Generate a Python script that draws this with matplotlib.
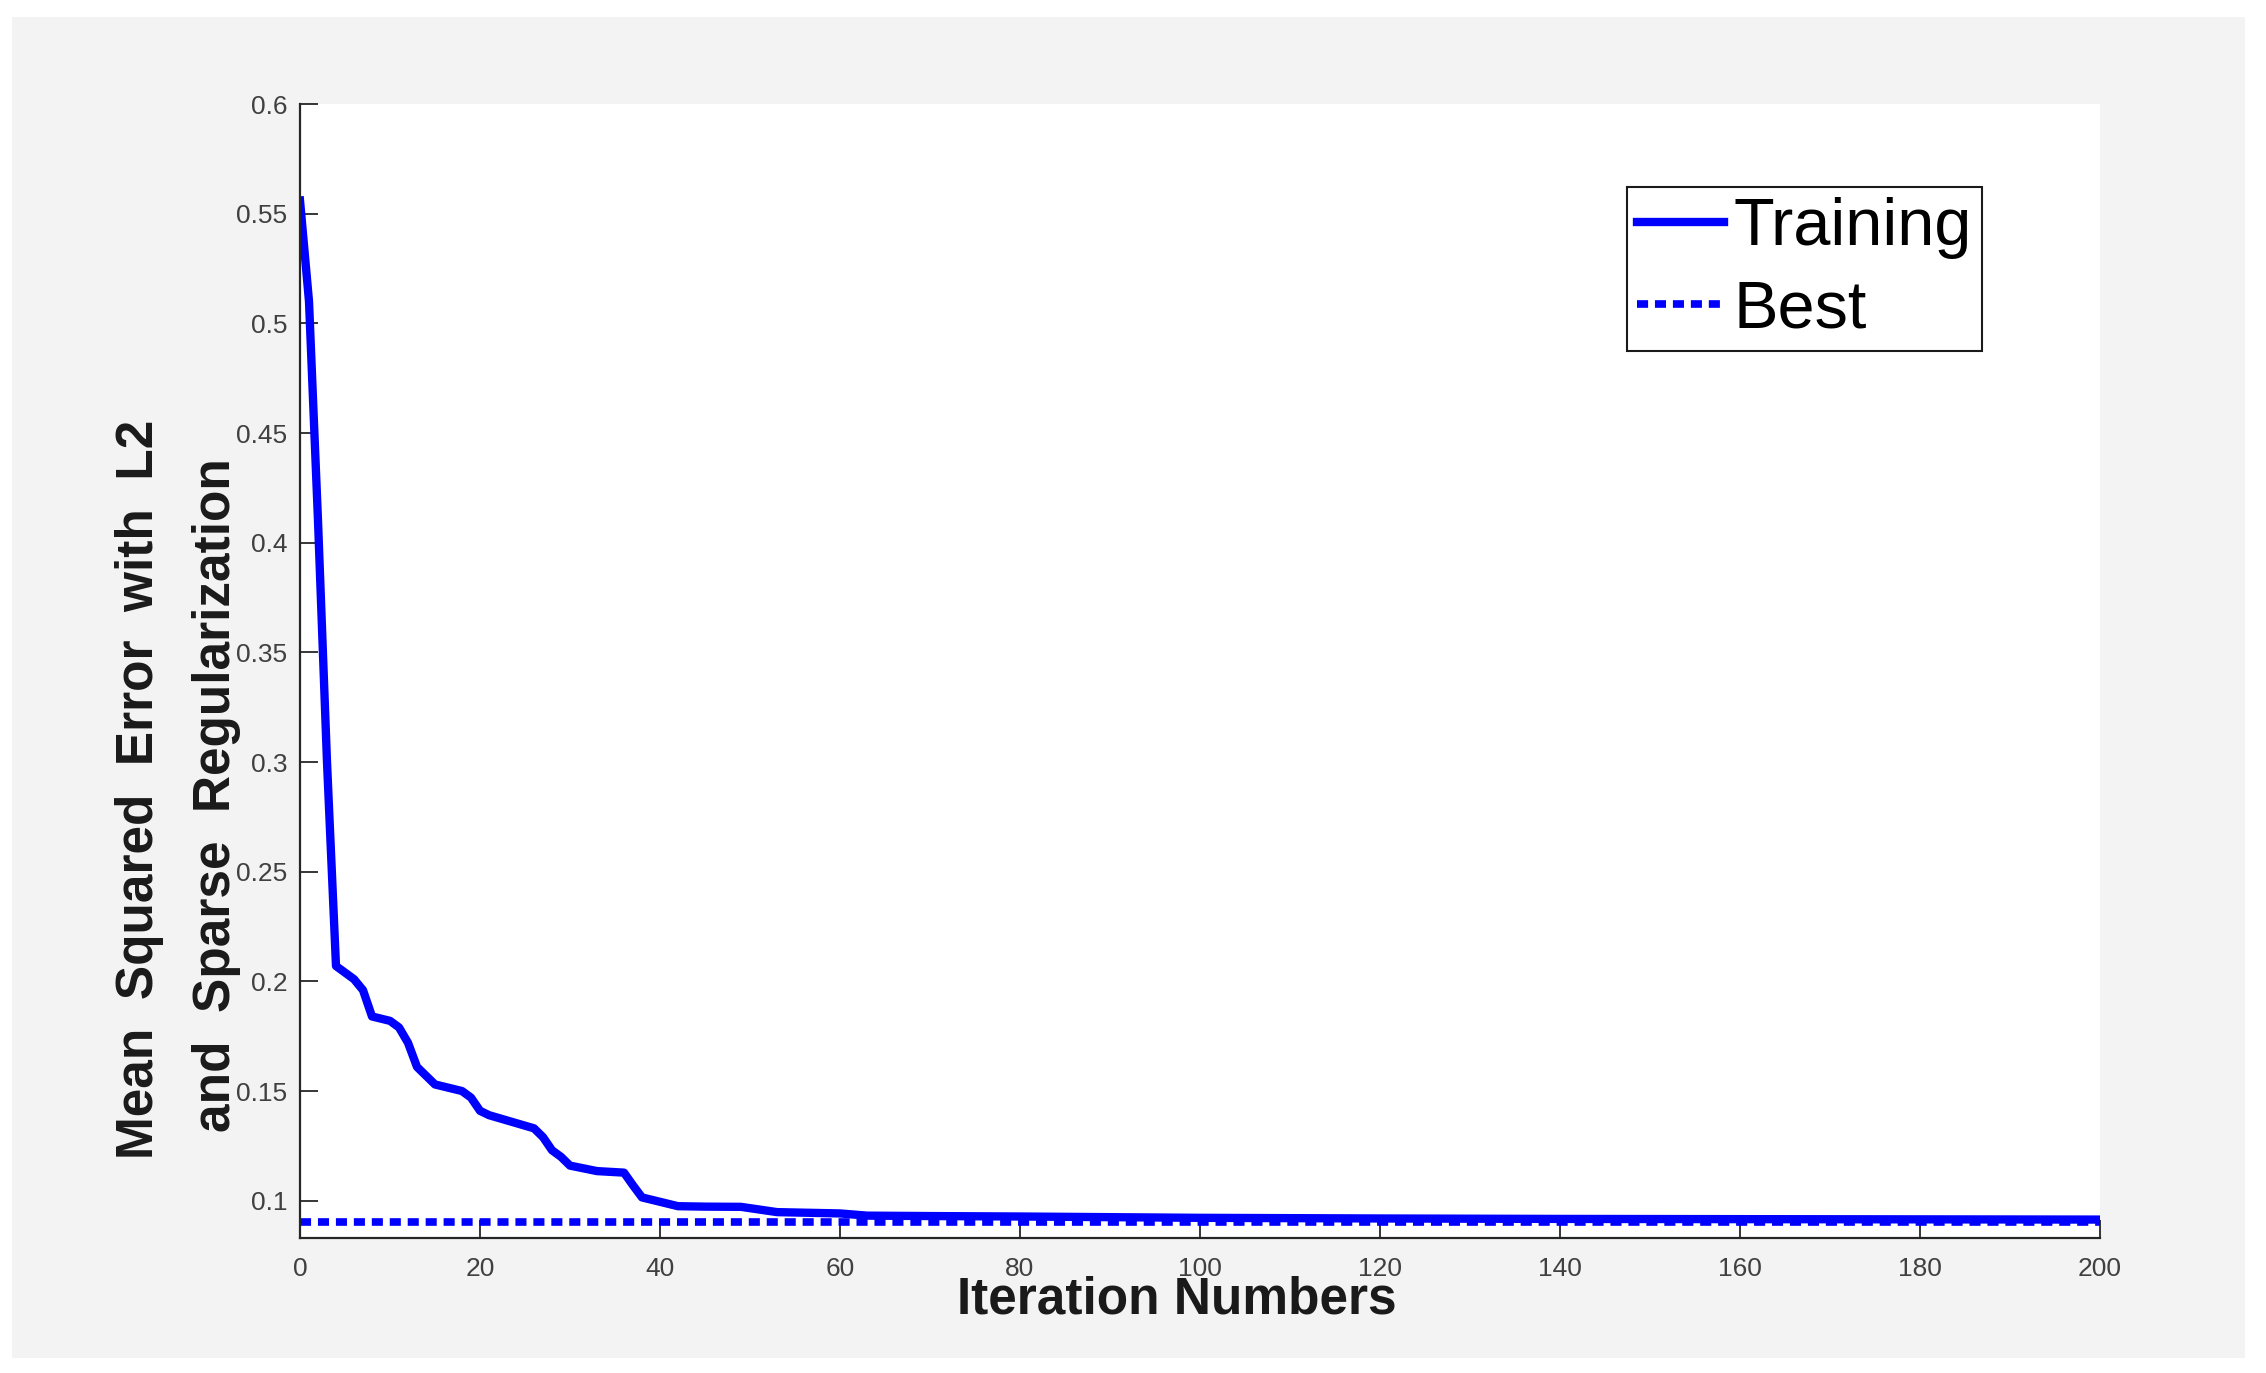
import matplotlib
matplotlib.use("Agg")
import matplotlib.pyplot as plt
from matplotlib.patches import Rectangle

plt.rcParams['font.family'] = ['Liberation Sans', 'DejaVu Sans']

# training curve
iters = [0, 1, 2, 3, 4, 5, 6, 7, 8, 10, 11, 12, 13, 14, 15, 18, 19, 20, 21,
         26, 27, 28, 29, 30, 33, 36, 37, 38, 40, 42, 45, 49, 53, 60, 63, 70,
         80, 90, 100, 120, 140, 160, 180, 200]
mse = [0.556, 0.51, 0.41, 0.30, 0.207, 0.204, 0.201, 0.196, 0.184, 0.182,
       0.179, 0.172, 0.161, 0.157, 0.153, 0.150, 0.147, 0.141, 0.139,
       0.133, 0.129, 0.123, 0.120, 0.116, 0.1135, 0.1128, 0.107, 0.1015,
       0.0995, 0.0975, 0.0973, 0.0972, 0.0948, 0.0942, 0.0932, 0.0930,
       0.0928, 0.0925, 0.0922, 0.0919, 0.0917, 0.0916, 0.0915, 0.0914]
best_val = 0.0904

xticks = [0, 20, 40, 60, 80, 100, 120, 140, 160, 180, 200]
yticks = [0.1, 0.15, 0.2, 0.25, 0.3, 0.35, 0.4, 0.45, 0.5, 0.55, 0.6]
ytick_labels = ['0.1', '0.15', '0.2', '0.25', '0.3', '0.35', '0.4', '0.45',
                '0.5', '0.55', '0.6']

W, H = 2266, 1373
fig = plt.figure(figsize=(W / 100, H / 100), dpi=100, facecolor='white')

# light grey panel with a thin white margin
fig.patches.append(Rectangle((12 / W, 15 / H), (2245 - 12) / W, (1356 - 15) / H,
                             transform=fig.transFigure, facecolor='#f3f3f3',
                             edgecolor='none', zorder=-10))

ax = fig.add_axes([300 / W, 1 - 1238 / H, 1800 / W, 1134 / H])
ax.set_facecolor('white')

ax.plot(iters, mse, color='#0000ff', lw=6, solid_joinstyle='round',
        label='Training')
ax.plot([0, 200], [best_val, best_val], color='#0000ff', lw=5.5,
        dashes=(1.45, 0.9), dash_capstyle='butt', label='Best')

ax.set_xlim(0, 200)
ax.set_ylim(0.083, 0.6)
ax.set_xticks(xticks)
ax.set_xticklabels([str(t) for t in xticks])
ax.set_yticks(yticks)
ax.set_yticklabels(ytick_labels)

for s in ['top', 'right']:
    ax.spines[s].set_visible(False)
for s in ['left', 'bottom']:
    ax.spines[s].set_color('#262626')
    ax.spines[s].set_linewidth(1.6)

ax.tick_params(direction='in', length=13, width=1.3, color='#262626',
               labelsize=19, labelcolor='#404040')
ax.tick_params(axis='x', pad=14)
ax.tick_params(axis='y', pad=9)

fig.text(1177 / W, 1 - 1300 / H, 'Iteration Numbers',
         ha='center', va='center', fontsize=37, fontweight='bold',
         color='#1a1a1a')
fig.text(140 / W, 1 - 789 / H, 'Mean  Squared  Error  with  L2', rotation=90,
         ha='center', va='center', fontsize=37, fontweight='bold',
         color='#1a1a1a')
fig.text(217 / W, 1 - 795 / H, 'and  Sparse  Regularization', rotation=90,
         ha='center', va='center', fontsize=37, fontweight='bold',
         color='#1a1a1a')

leg = ax.legend(loc='upper left', bbox_to_anchor=(1627 / W, 1 - 187 / H),
                bbox_transform=fig.transFigure, fontsize=48, frameon=True,
                fancybox=False, framealpha=1, edgecolor='#1a1a1a',
                borderpad=0.15, labelspacing=0.3, handlelength=1.3,
                handletextpad=0.15, borderaxespad=0)
leg.get_frame().set_linewidth(1.5)

fig.savefig('out.png', dpi=100, facecolor='white')
